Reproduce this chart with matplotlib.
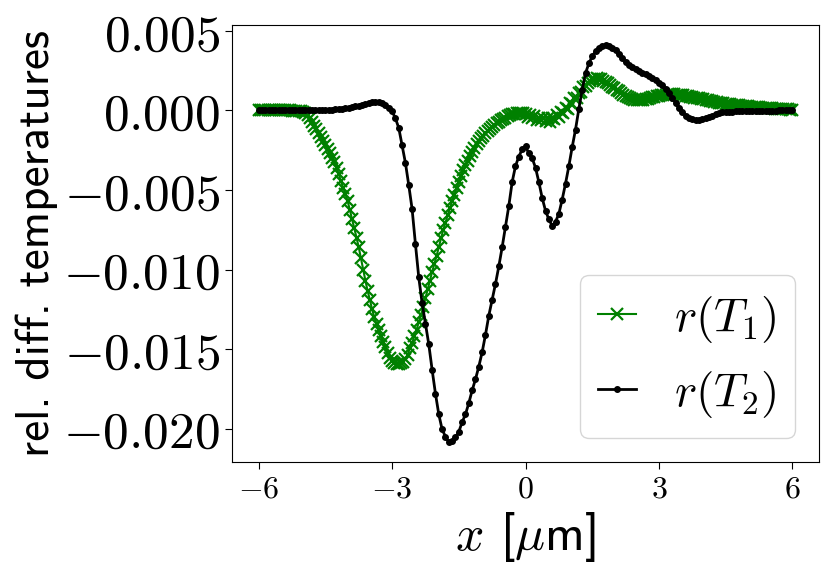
import numpy as np
import matplotlib
matplotlib.use("Agg")
import matplotlib.pyplot as plt
from matplotlib.ticker import FuncFormatter, MultipleLocator

plt.rcParams["mathtext.fontset"] = "cm"

# r(T1): relative difference, units of 1e-3, grid step 0.05 from -6 to 6
t1_milli = [
    0, 0, 0, 0, 0, 0, 0, 0, 0, 0,                                   # -6.00 .. -5.55
    0, 0, 0, 0, 0, -0.01, -0.01, -0.02, -0.03, -0.05,               # -5.50 .. -5.05
    -0.08, -0.14, -0.3, -0.5, -0.72, -0.95, -1.18, -1.4, -1.65, -1.9,   # -5.00 .. -4.55
    -2.15, -2.4, -2.7, -2.98, -3.25, -3.6, -4.0, -4.45, -4.85, -5.25,   # -4.50 .. -4.05
    -5.7, -6.25, -6.85, -7.4, -8.0, -8.6, -9.3, -10.0, -10.7, -11.35,   # -4.00 .. -3.55
    -11.9, -12.5, -13.0, -13.4, -13.8, -14.2, -14.55, -14.9, -15.25, -15.55,  # -3.50 .. -3.05
    -15.75, -15.9, -15.95, -15.95, -15.9, -15.8, -15.65, -15.35, -14.95, -14.6,  # -3.00 .. -2.55
    -14.2, -13.8, -13.3, -12.85, -12.35, -11.8, -11.25, -10.7, -10.15, -9.65,  # -2.50 .. -2.05
    -9.15, -8.6, -8.05, -7.5, -7.05, -6.6, -6.15, -5.7, -5.3, -4.9,     # -2.00 .. -1.55
    -4.5, -4.1, -3.75, -3.45, -3.15, -2.85, -2.6, -2.35, -2.1, -1.9,    # -1.50 .. -1.05
    -1.75, -1.6, -1.45, -1.3, -1.17, -1.05, -0.93, -0.82, -0.7, -0.6,   # -1.00 .. -0.55
    -0.52, -0.45, -0.38, -0.3, -0.24, -0.2, -0.17, -0.15, -0.15, -0.18, # -0.50 .. -0.05
    -0.25, -0.4, -0.3, -0.5, -0.38, -0.6, -0.45, -0.62, -0.48, -0.66,   # 0.00 .. 0.45
    -0.5, -0.7, -0.45, -0.55, -0.3, -0.4, -0.1, -0.15, 0.15, 0.1,       # 0.50 .. 0.95
    0.45, 0.4, 0.8, 0.75, 1.1, 1.15, 1.45, 1.55, 1.75, 1.85,            # 1.00 .. 1.45
    1.95, 2.0, 2.02, 2.0, 1.95, 1.88, 1.8, 1.7, 1.6, 1.5,               # 1.50 .. 1.95
    1.4, 1.3, 1.2, 1.1, 1.0, 0.92, 0.85, 0.78, 0.72, 0.68,              # 2.00 .. 2.45
    0.65, 0.64, 0.65, 0.67, 0.7, 0.74, 0.78, 0.82, 0.86, 0.9,           # 2.50 .. 2.95
    0.93, 0.96, 0.98, 1.0, 1.01, 1.02, 1.02, 1.01, 1.0, 0.99,           # 3.00 .. 3.45
    0.97, 0.95, 0.93, 0.9, 0.87, 0.84, 0.81, 0.78, 0.75, 0.72,          # 3.50 .. 3.95
    0.69, 0.66, 0.63, 0.6, 0.57, 0.54, 0.51, 0.49, 0.47, 0.45,          # 4.00 .. 4.45
    0.43, 0.41, 0.39, 0.37, 0.35, 0.33, 0.31, 0.3, 0.28, 0.27,          # 4.50 .. 4.95
    0.25, 0.24, 0.22, 0.21, 0.2, 0.19, 0.18, 0.17, 0.16, 0.15,          # 5.00 .. 5.45
    0.14, 0.13, 0.12, 0.11, 0.1, 0.09, 0.08, 0.07, 0.06, 0.05,          # 5.50 .. 5.95
    0.05,                                                              # 6.00
]

# r(T2): relative difference, units of 1e-3, grid step 0.075 from -6 to 6
t2_milli = [
    0, 0, 0, 0, 0, 0, 0, 0,                                  # -6.0 .. -5.475
    0, 0, 0, 0, 0, 0, 0.01, 0.01,                            # -5.4 .. -4.875
    0.01, 0.01, 0.02, 0.02, 0.02, 0.03, 0.04, 0.06,          # -4.8 .. -4.275
    0.08, 0.10, 0.13, 0.16, 0.20, 0.25, 0.30, 0.35,          # -4.2 .. -3.675
    0.40, 0.45, 0.50, 0.53, 0.53, 0.47, 0.35, 0.15,          # -3.6 .. -3.075
    -0.05, -0.5, -1.1, -2.2, -3.3, -4.7, -6.2, -8.4,         # -3.0 .. -2.475
    -10.5, -12.1, -13.4, -14.7, -16.3, -17.8, -19.1, -20.05, # -2.4 .. -1.875
    -20.5, -20.85, -20.8, -20.55, -20.2, -19.6, -19.1, -18.4,  # -1.8 .. -1.275
    -17.6, -16.9, -16.1, -15.2, -14.1, -12.9, -11.9, -10.9,  # -1.2 .. -0.675
    -9.8, -8.6, -7.3, -6.0, -4.5, -3.5, -2.9, -2.45,         # -0.6 .. -0.075
    -2.25, -2.7, -3.0, -3.6, -4.5, -5.5, -6.3, -6.85,        # 0.0 .. 0.525
    -7.25, -7.0, -6.5, -5.6, -4.6, -3.5, -2.3, -1.2,         # 0.6 .. 1.125
    0.1, 1.3, 2.35, 2.95, 3.4, 3.72, 3.95, 4.07,             # 1.2 .. 1.725
    4.12, 4.07, 3.95, 3.8, 3.55, 3.3, 3.05, 2.85,            # 1.8 .. 2.325
    2.7, 2.58, 2.46, 2.36, 2.26, 2.15, 2.05, 1.9,            # 2.4 .. 2.925
    1.75, 1.6, 1.35, 1.1, 0.8, 0.45, 0.15, -0.1,             # 3.0 .. 3.525
    -0.32, -0.47, -0.56, -0.6, -0.6, -0.56, -0.5, -0.42,     # 3.6 .. 4.125
    -0.33, -0.25, -0.18, -0.13, -0.1, -0.08, -0.07, -0.06,   # 4.2 .. 4.725
    -0.05, -0.04, -0.04, -0.03, -0.03, -0.02, -0.02, -0.02,  # 4.8 .. 5.325
    -0.01, -0.01, -0.01, -0.01, 0, 0, 0, 0,                  # 5.4 .. 5.925
    0,                                                       # 6.0
]

x_ticks = [-6, -3, 0, 3, 6]

t1 = np.array(t1_milli) * 1e-3
t2 = np.array(t2_milli) * 1e-3
x1 = np.linspace(-6, 6, len(t1))
x2 = np.linspace(-6, 6, len(t2))

fig = plt.figure(figsize=(8.31, 5.73), dpi=100)
ax = fig.add_axes([232 / 831, 1 - 462 / 573, (819 - 232) / 831, (462 - 25) / 573])

ax.plot(x1, t1, color="green", marker="x", ms=8, mew=1.6, lw=1.5, label=r"$r(T_1)$")
ax.plot(x2, t2, color="black", marker="o", ms=4, lw=2, label=r"$r(T_2)$")

ax.set_xticks(x_ticks)
ax.set_xticklabels([f"${t}$" for t in x_ticks], fontsize=23)
ax.yaxis.set_major_locator(MultipleLocator(0.005))
ax.yaxis.set_major_formatter(FuncFormatter(lambda v, p: f"${v:.3f}$"))
ax.tick_params(axis="y", labelsize=37)
ax.tick_params(length=5)

ax.set_xlabel(r"$x$ [$\mu$m]", fontsize=36, family="cmss10")
ax.set_ylabel("rel. diff. temperatures", fontsize=34, family="cmss10")

ax.legend(loc="lower right", fontsize=34, handlelength=0.8)

fig.savefig("out.png", dpi=100)
